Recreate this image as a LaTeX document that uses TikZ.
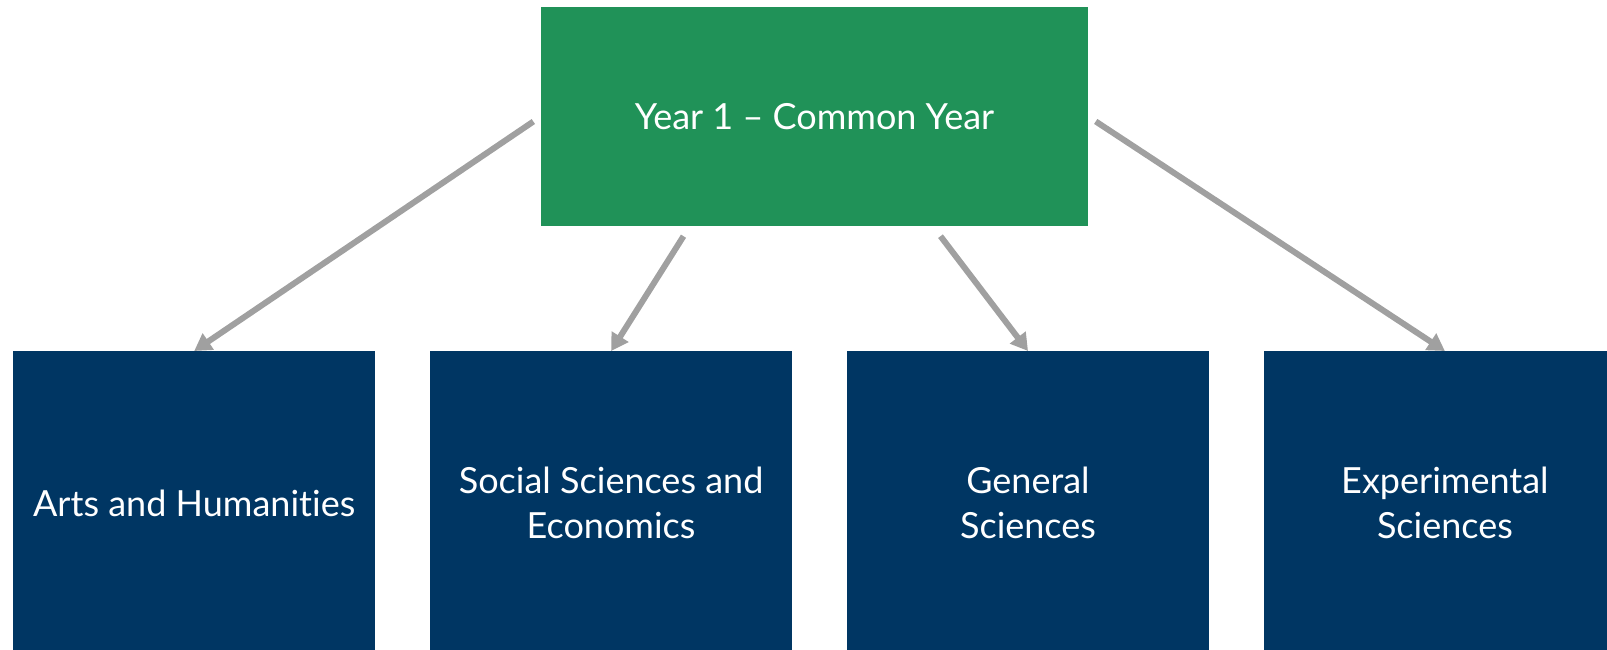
\documentclass[tikz,border=0pt]{standalone}
\usepackage{fontspec}
\setmainfont{Lato}[Ligatures={TeX,NoCommon}]
\usetikzlibrary{arrows.meta,positioning,calc}
\definecolor{yeargreen}{RGB}{32,146,88}
\definecolor{trackblue}{RGB}{0,54,99}
\definecolor{linkgray}{RGB}{160,160,160}

\begin{document}
\begin{tikzpicture}[x=1pt, y=1pt,
  yearbox/.style={fill=yeargreen, text=white, minimum width=547pt,
    minimum height=219pt, inner sep=0pt, font=\fontsize{36}{45}\selectfont},
  trackbox/.style={fill=trackblue, text=white, minimum width=362pt,
    minimum height=304pt, inner sep=0pt, align=center,
    font=\fontsize{36}{45}\selectfont},
  link/.style={draw=linkgray, line width=6pt,
    -{Triangle[length=17pt,width=19pt]}}
]
\useasboundingbox (0,0) rectangle (1607,649);

% common year on top
\node[yearbox] (year) at (814.5,532.5) {Year 1 -- Common Year};

% the four tracks
\node[trackbox, anchor=north west] (arts) at (13,298) {Arts and Humanities};
\node[trackbox, right=54.5pt of arts] (social) {Social Sciences and\\Economics};
\node[trackbox, right=54.5pt of social] (general) {General\\Sciences};
\node[trackbox, right=54.5pt of general] (exper) {Experimental\\Sciences};

% connectors
\coordinate (socstart) at ($(year.south)+(-131,-10)$);
\coordinate (genstart) at ($(year.south)+(126,-10)$);
\draw[link, shorten <=9pt] (year.west) -- (arts.north);
\draw[link] (socstart) -- (social.north);
\draw[link] (genstart) -- (general.north);
\draw[link, shorten <=9pt] (year.east) -- (exper.north);
\end{tikzpicture}
\end{document}
